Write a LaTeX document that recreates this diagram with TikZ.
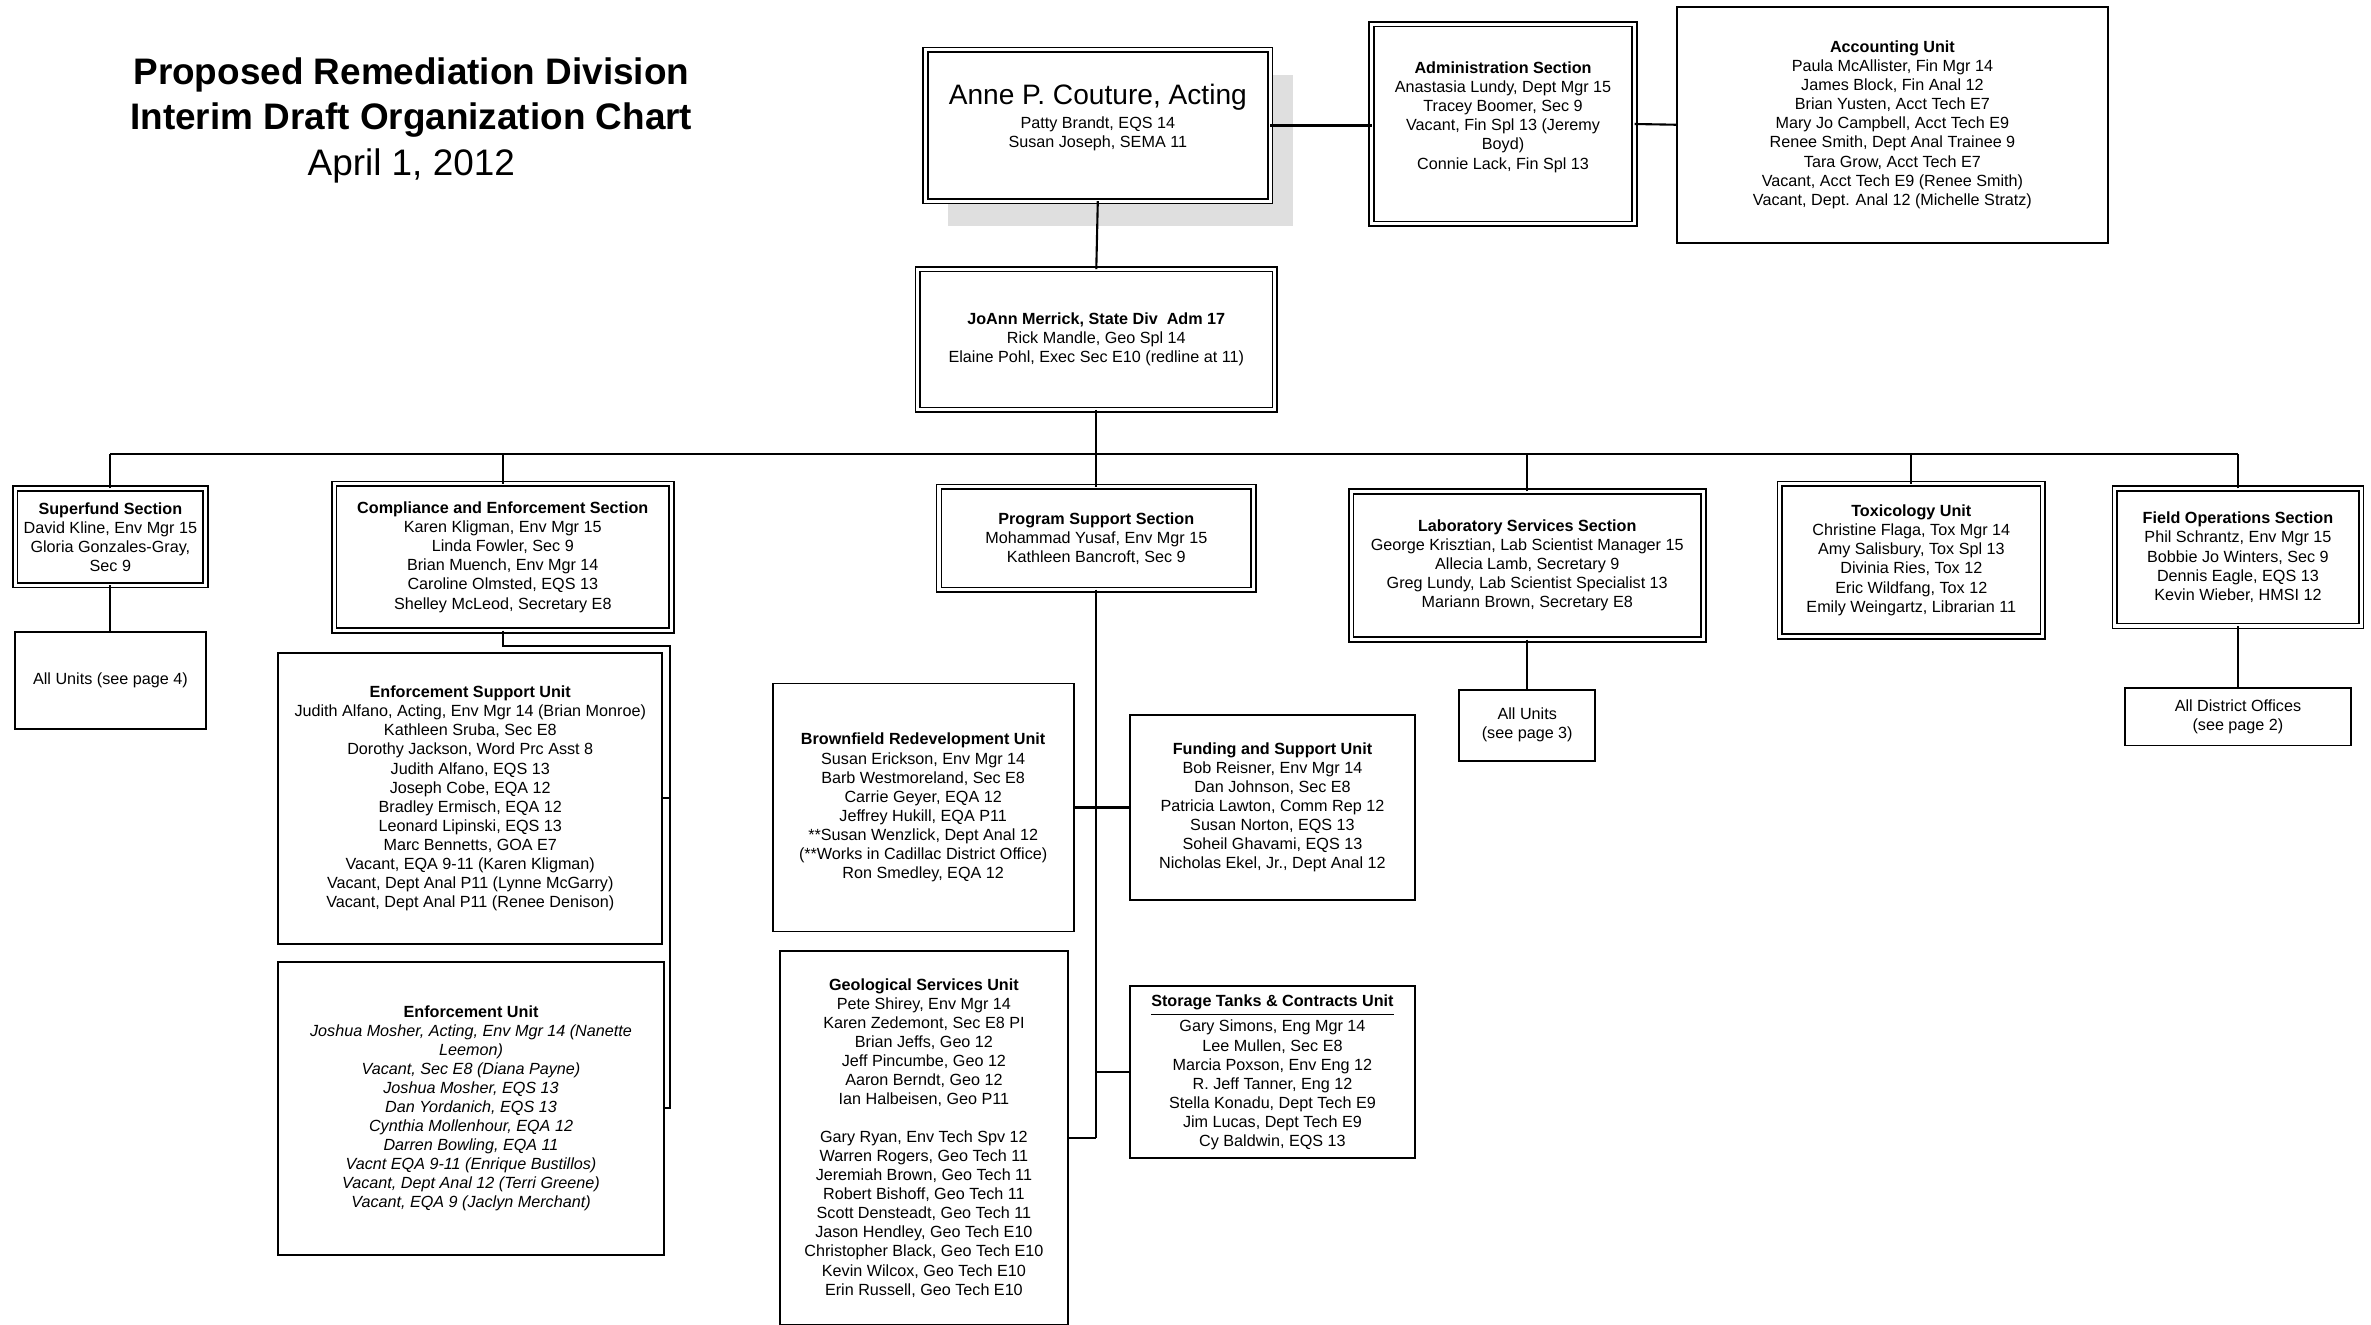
\documentclass[tikz,border=0pt]{standalone}
\usepackage{fontspec}
\setmainfont{Liberation Sans}
\usetikzlibrary{shadows}

\tikzset{
  boxsize/.style 2 args={minimum width=#1*0.4302pt, minimum height=#2*0.4302pt},
  unit/.style={draw, line width=0.55pt, fill=white, inner sep=0pt, outer sep=0pt, align=center, font=\fontsize{4.6}{5.42}\selectfont},
  sect/.style={unit, double, double distance=0.9pt, line width=0.45pt},
  link/.style={draw, line width=0.6pt}
}

\begin{document}
\begin{tikzpicture}[x=0.1512mm, y=-0.1512mm]
      \useasboundingbox (0,0) rectangle (1568,876);
      \node[font=\fontsize{10.5}{12.9}\selectfont, align=center] (title) at (272,79.5)
        {\textbf{Proposed Remediation Division}\\\textbf{Interim Draft Organization Chart}\\April 1, 2012};

      \node[sect, boxsize={228}{100}, text depth=5.5pt,
            drop shadow={shadow xshift=6.5pt, shadow yshift=-7pt, fill=gray!25, opacity=1}] (director) at (726,83)
        {{\fontsize{8}{9}\selectfont Anne P. Couture, Acting}\\[1.5pt]Patty Brandt, EQS 14\\Susan Joseph, SEMA 11};
      \node[sect, boxsize={174}{132}, text depth=4.8pt] (admin) at (994,82)
        {\textbf{Administration Section}\\Anastasia Lundy, Dept Mgr 15\\Tracey Boomer, Sec 9\\Vacant, Fin Spl 13 (Jeremy\\Boyd)\\Connie Lack, Fin Spl 13};
      \node[unit, boxsize={285}{156}] (accounting) at (1251.5,82.5)
        {\textbf{Accounting Unit}\\Paula McAllister, Fin Mgr 14\\James Block, Fin Anal 12\\Brian Yusten, Acct Tech E7\\Mary Jo Campbell, Acct Tech E9\\Renee Smith, Dept Anal Trainee 9\\Tara Grow, Acct Tech E7\\Vacant, Acct Tech E9 (Renee Smith)\\Vacant, Dept. Anal 12 (Michelle Stratz)};
      \node[sect, boxsize={236}{93}] (division) at (725,224.5)
        {\textbf{JoAnn Merrick, State Div\ \ Adm 17}\\Rick Mandle, Geo Spl 14\\Elaine Pohl, Exec Sec E10 (redline at 11)};

      \node[sect, boxsize={126}{64}] (superfund) at (73,355)
        {\textbf{Superfund Section}\\David Kline, Env Mgr 15\\Gloria Gonzales-Gray,\\Sec 9};
      \node[unit, boxsize={126}{64}] (superunits) at (73,450) {All Units (see page 4)};
      \node[sect, boxsize={223}{97}] (compliance) at (332.5,368.5)
        {\textbf{Compliance and Enforcement Section}\\Karen Kligman, Env Mgr 15\\Linda Fowler, Sec 9\\Brian Muench, Env Mgr 14\\Caroline Olmsted, EQS 13\\Shelley McLeod, Secretary E8};
      \node[unit, boxsize={254}{192}] (enfsupport) at (311,528)
        {\textbf{Enforcement Support Unit}\\Judith Alfano, Acting, Env Mgr 14 (Brian Monroe)\\Kathleen Sruba, Sec E8\\Dorothy Jackson, Word Prc Asst 8\\Judith Alfano, EQS 13\\Joseph Cobe, EQA 12\\Bradley Ermisch, EQA 12\\Leonard Lipinski, EQS 13\\Marc Bennetts, GOA E7\\Vacant, EQA 9-11 (Karen Kligman)\\Vacant, Dept Anal P11 (Lynne McGarry)\\Vacant, Dept Anal P11 (Renee Denison)};
      \node[unit, boxsize={255}{194}] (enfunit) at (311.5,733)
        {\textbf{Enforcement Unit}\\\textit{Joshua Mosher, Acting, Env Mgr 14 (Nanette}\\\textit{Leemon)}\\\textit{Vacant, Sec E8 (Diana Payne)}\\\textit{Joshua Mosher, EQS 13}\\\textit{Dan Yordanich, EQS 13}\\\textit{Cynthia Mollenhour, EQA 12}\\\textit{Darren Bowling, EQA 11}\\\textit{Vacnt EQA 9-11 (Enrique Bustillos)}\\\textit{Vacant, Dept Anal 12 (Terri Greene)}\\\textit{Vacant, EQA 9 (Jaclyn Merchant)}};

      \node[sect, boxsize={208}{68}] (progsupport) at (725,356)
        {\textbf{Program Support Section}\\Mohammad Yusaf, Env Mgr 15\\Kathleen Bancroft, Sec 9};
      \node[unit, boxsize={199}{164}] (brownfield) at (610.5,534)
        {\textbf{Brownfield Redevelopment Unit}\\Susan Erickson, Env Mgr 14\\Barb Westmoreland, Sec E8\\Carrie Geyer, EQA 12\\Jeffrey Hukill, EQA P11\\**Susan Wenzlick, Dept Anal 12\\(**Works in Cadillac District Office)\\Ron Smedley, EQA 12};
      \node[unit, boxsize={189}{122}] (funding) at (841.5,534)
        {\textbf{Funding and Support Unit}\\Bob Reisner, Env Mgr 14\\Dan Johnson, Sec E8\\Patricia Lawton, Comm Rep 12\\Susan Norton, EQS 13\\Soheil Ghavami, EQS 13\\Nicholas Ekel, Jr., Dept Anal 12};
      \node[unit, boxsize={190}{247}] (geological) at (611,752.5)
        {\textbf{Geological Services Unit}\\Pete Shirey, Env Mgr 14\\Karen Zedemont, Sec E8 PI\\Brian Jeffs, Geo 12\\Jeff Pincumbe, Geo 12\\Aaron Berndt, Geo 12\\Ian Halbeisen, Geo P11\\[5.4pt]Gary Ryan, Env Tech Spv 12\\Warren Rogers, Geo Tech 11\\Jeremiah Brown, Geo Tech 11\\Robert Bishoff, Geo Tech 11\\Scott Densteadt, Geo Tech 11\\Jason Hendley, Geo Tech E10\\Christopher Black, Geo Tech E10\\Kevin Wilcox, Geo Tech E10\\Erin Russell, Geo Tech E10};
      \node[unit, boxsize={189}{114}] (storage) at (841.5,709)
        {\underline{\textbf{Storage Tanks \& Contracts Unit}}\\Gary Simons, Eng Mgr 14\\Lee Mullen, Sec E8\\Marcia Poxson, Env Eng 12\\R. Jeff Tanner, Eng 12\\Stella Konadu, Dept Tech E9\\Jim Lucas, Dept Tech E9\\Cy Baldwin, EQS 13};

      \node[sect, boxsize={233}{98}] (labservices) at (1010,374)
        {\textbf{Laboratory Services Section}\\George Krisztian, Lab Scientist Manager 15\\Allecia Lamb, Secretary 9\\Greg Lundy, Lab Scientist Specialist 13\\Mariann Brown, Secretary E8};
      \node[unit, boxsize={90}{47}] (labunits) at (1010,479.5) {All Units\\(see page 3)};
      \node[sect, boxsize={174}{101}] (toxicology) at (1264,370.5)
        {\textbf{Toxicology Unit}\\Christine Flaga, Tox Mgr 14\\Amy Salisbury, Tox Spl 13\\Divinia Ries, Tox 12\\Eric Wildfang, Tox 12\\Emily Weingartz, Librarian 11};
      \node[sect, boxsize={163}{91}] (fieldops) at (1480,368.5)
        {\textbf{Field Operations Section}\\Phil Schrantz, Env Mgr 15\\Bobbie Jo Winters, Sec 9\\Dennis Eagle, EQS 13\\Kevin Wieber, HMSI 12};
      \node[unit, boxsize={149}{38}] (districts) at (1480,474) {All District Offices\\(see page 2)};

      \coordinate (bus) at (725,300);
      \coordinate (cespine) at (443,427);
      \coordinate (pspine) at (725,752.5);

      \draw[link] (director.east) -- (director.east -| admin.west);
      \draw[link] (admin.east) -- (accounting.west);
      \draw[link] (director.south) -- (division.north);
      \draw[link] (division.south) -- (bus);
      \draw[link] (superfund.north |- bus) -- (fieldops.north |- bus);
      \foreach \boxname in {superfund, compliance, progsupport, labservices, toxicology, fieldops}
        \draw[link] (\boxname.north) -- (\boxname.north |- bus);
      \draw[link] (superfund.south) -- (superunits.north);
      \draw[link] (compliance.south) |- (cespine) |- (enfunit.east);
      \draw[link] (enfsupport.east) -- (enfsupport.east -| cespine);
      \draw[link] (progsupport.south) -- (pspine);
      \draw[link] (brownfield.east) -- (funding.west);
      \draw[link] (storage.west) -- (storage.west -| pspine);
      \draw[link] (geological.east) -- (pspine);
      \draw[link] (labservices.south) -- (labunits.north);
      \draw[link] (fieldops.south) -- (districts.north);
    \end{tikzpicture}
\end{document}
